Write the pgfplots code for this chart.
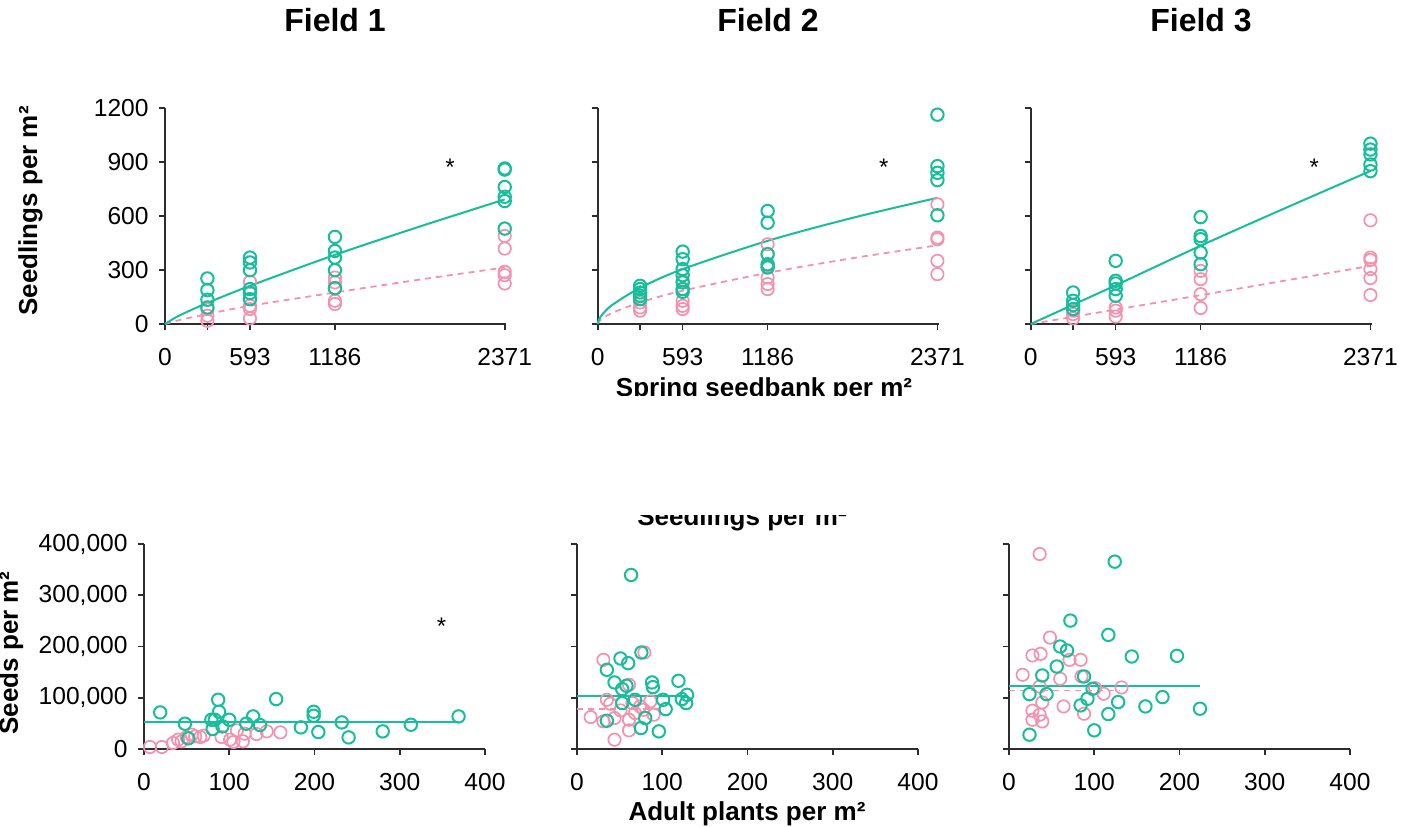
\documentclass[border=0pt]{standalone}
\usepackage{fontspec}
\setmainfont{Liberation Sans}
\usepackage{pgfplots}
\pgfplotsset{compat=1.18}
\definecolor{tealc}{RGB}{22,190,155}
\definecolor{pinkc}{RGB}{244,145,172}
\definecolor{axc}{RGB}{45,45,45}

\tikzset{star/.style={font=\fontsize{12}{14}\selectfont, yshift=-2.5pt}}

\pgfplotsset{
  panel/.style={
    scale only axis, width=170.5pt, anchor=south west,
    axis lines=left, axis line style={axc, line width=0.9pt, -},
    tick align=outside, major tick length=3pt,
    tick style={axc, line width=0.8pt},
    tick label style={font=\fontsize{12.3}{14}\selectfont, text=black},
    /pgf/number format/assume math mode=true,
    /pgf/number format/fixed,
    xticklabel style={anchor=base, inner sep=0pt, yshift=-17.5pt},
    yticklabel style={anchor=east, inner sep=0pt, xshift=-5pt},
    clip=false,
  },
  toprow/.style={panel, height=108pt, xmin=0, xmax=2380, ymin=0, ymax=1200,
    xtick={0,296,593,1186,2371}, xticklabels={0,,593,1186,2371},
    ytick={0,300,600,900,1200},
    /pgf/number format/1000 sep={}},
  botrow/.style={panel, height=102.5pt, xmin=0, xmax=400, ymin=0, ymax=400000,
    xtick={0,100,200,300,400}, ytick={0,100000,200000,300000,400000},
    scaled y ticks=false,
    /pgf/number format/1000 sep={,}},
  tmk/.style={only marks, mark=o, mark size=3.1pt, color=tealc, mark options={line width=1pt}},
  pmk/.style={only marks, mark=o, mark size=3.1pt, color=pinkc, mark options={line width=0.85pt}},
  tfit/.style={color=tealc, line width=1pt, mark=none},
  pfit/.style={color=pinkc, line width=0.9pt, dash pattern=on 3pt off 2.5pt, mark=none},
}

\begin{document}
\begin{tikzpicture}
\path[use as bounding box] (0,0) rectangle (711pt,413pt);

% ---------- top row: seedlings vs spring seedbank ----------
\begin{axis}[toprow, at={(82.5pt,251pt)}]
\addplot[pfit, smooth] coordinates {(0,0) (100,22) (296,55) (593,101) (1186,175) (1780,247) (2371,314)};
\addplot[tfit, smooth] coordinates {(0,0) (100,47) (296,117) (593,212) (1186,384) (1780,542) (2371,692)};
\addplot[pmk] coordinates {
 (296,83) (296,46) (296,18)
 (593,234) (593,101) (593,83) (593,31)
 (1186,258) (1186,231) (1186,198) (1186,129) (1186,111)
 (2371,489) (2371,419) (2371,290) (2371,271) (2371,225)};
\addplot[tmk] coordinates {
 (296,253) (296,188) (296,135) (296,92)
 (593,369) (593,342) (593,299) (593,194) (593,172) (593,138)
 (1186,484) (1186,406) (1186,369) (1186,299) (1186,199)
 (2371,864) (2371,858) (2371,761) (2371,707) (2371,683) (2371,530)};
\node[star] at (axis cs:1990,900) {*};
\end{axis}

\begin{axis}[toprow, at={(298.85pt,251pt)}, yticklabels={}]
\addplot[pfit, smooth] coordinates {(0,0) (10,15) (30,29) (100,61) (296,120) (593,185) (1186,284) (1780,366) (2371,437)};
\addplot[tfit, smooth] coordinates {(0,0) (2,10) (10,26) (30,51) (100,105) (296,201) (593,305) (1186,462) (1780,590) (2371,701)};
\addplot[pmk] coordinates {
 (296,120) (296,92) (296,74)
 (593,240) (593,194) (593,129) (593,101) (593,83)
 (1186,443) (1186,388) (1186,323) (1186,258) (1186,222) (1186,194)
 (2371,665) (2371,480) (2371,471) (2371,351) (2371,277)};
\addplot[tmk] coordinates {
 (296,212) (296,194) (296,175) (296,157) (296,138)
 (593,402) (593,360) (593,305) (593,271) (593,231) (593,194) (593,179)
 (1186,628) (1186,563) (1186,388) (1186,332) (1186,314)
 (2371,1163) (2371,877) (2371,840) (2371,799) (2371,604)};
\node[star] at (axis cs:1996,900) {*};
\end{axis}

\begin{axis}[toprow, at={(515.35pt,251pt)}, yticklabels={}]
\addplot[pfit] coordinates {(0,0) (1186,160) (2371,323)};
\addplot[tfit, smooth] coordinates {(0,0) (593,215) (1186,435) (1780,645) (2371,850)};
\addplot[pmk] coordinates {
 (296,74) (296,55) (296,31)
 (593,92) (593,74) (593,41)
 (1186,295) (1186,249) (1186,166) (1186,89)
 (2371,576) (2371,369) (2371,356) (2371,305) (2371,255) (2371,161)};
\addplot[tmk] coordinates {
 (296,175) (296,129) (296,105) (296,83)
 (593,351) (593,240) (593,225) (593,194) (593,157)
 (1186,594) (1186,489) (1186,471) (1186,397) (1186,332)
 (2371,1002) (2371,969) (2371,942) (2371,886) (2371,849)};
\node[star] at (axis cs:1980,900) {*};
\end{axis}

% ---------- bottom row: seeds vs adult plants ----------
\begin{axis}[botrow, at={(72pt,38.5pt)}]
\addplot[tfit] coordinates {(0,52000) (369,52000)};
\addplot[pmk] coordinates {
 (7,3900) (21,3900) (34,11700) (40,18200) (44,15000) (50,23400) (56,27900)
 (60,24700) (66,23400) (70,26000) (91,23400) (101,18200) (105,13600)
 (109,36400) (116,15000) (118,29900) (132,29200) (144,34400) (160,32500)};
\addplot[tmk] coordinates {
 (19,71400) (48,49400) (52,20800) (79,57100) (80.5,39000) (83,57100)
 (87,96100) (88,72700) (92,44200) (100,57100) (120,49400) (128,63600)
 (136,46800) (155,97400) (184,42200) (199,72700) (199,64900) (204.5,33100)
 (232,51900) (240,22700) (280,34400) (313,47400) (369,63600)};
\node[star] at (axis cs:349,248700) {*};
\end{axis}

\begin{axis}[botrow, at={(288.5pt,38.5pt)}, yticklabels={}]
\addplot[pfit] coordinates {(0,78000) (100,78000)};
\addplot[tfit] coordinates {(0,102600) (128,102600)};
\addplot[pmk] coordinates {
 (31,174000) (79,188300) (61,125300) (35,96100) (39,88300) (51,75300)
 (65,89600) (74,83100) (86,92900) (16,62300) (44,60400) (61,57100)
 (68,70100) (90,66900) (78,76600) (61,36400) (44,18200) (31,53900)};
\addplot[tmk] coordinates {
 (63.4,339600) (75.5,188300) (51,176600) (60,167500) (35,154500) (44,129900)
 (58,123400) (53,116900) (88,129900) (89,120800) (119,133100) (129,105800)
 (128,89600) (123,97400) (101,96100) (104,77900) (53,89600) (68,96100)
 (35,55200) (80,60400) (75,40900) (96,34400)};
\end{axis}

\begin{axis}[botrow, at={(504.5pt,38.5pt)}, yticklabels={}]
\addplot[pfit] coordinates {(0,114300) (130,114300)};
\addplot[tfit] coordinates {(0,123400) (224,123400)};
\addplot[pmk] coordinates {
 (36,380500) (48,217500) (27.5,182500) (37,185700) (71,174000) (84,174000)
 (16,144800) (60,137000) (85,141600) (36,122000) (101,118800) (132,120100)
 (111,107800) (39,90900) (64,83100) (27.5,74700) (88,68800) (27.5,57100)
 (36,66900) (39,53900)};
\addplot[tmk] coordinates {
 (124,365600) (72,250600) (116.5,222700) (60,200000) (68,192200) (144,180500)
 (197,181800) (56,161000) (39,143500) (88,141600) (98,117500) (24,107100)
 (44,107100) (92,98000) (180,101300) (84,85100) (128,91600) (160,83100)
 (116.5,68200) (224,78600) (100,36400) (24,27900)};
\end{axis}

% ---------- titles and axis labels ----------
\begin{scope}[font=\fontsize{16}{19}\selectfont\bfseries]
\node[anchor=base] at (167.5pt,397pt) {Field 1};
\node[anchor=base] at (384pt,397pt) {Field 2};
\node[anchor=base] at (600.5pt,397pt) {Field 3};
\end{scope}

\begin{scope}[font=\fontsize{13}{15}\selectfont\bfseries]
\node[anchor=base, rotate=90] at (18.5pt,307.5pt) {Seedlings per m²};
\node[anchor=base, rotate=90] at (9pt,86.5pt) {Seeds per m²};
\node[anchor=base] at (373.5pt,3pt) {Adult plants per m²};
\begin{scope}
\clip (250pt,215.5pt) rectangle (520pt,240pt);
\node[anchor=base] at (382pt,215pt) {Spring seedbank per m²};
\end{scope}
\begin{scope}
\clip (250pt,140pt) rectangle (520pt,155.5pt);
\node[anchor=base] at (371pt,150.5pt) {Seedlings per m²};
\end{scope}
\end{scope}
\end{tikzpicture}
\end{document}
